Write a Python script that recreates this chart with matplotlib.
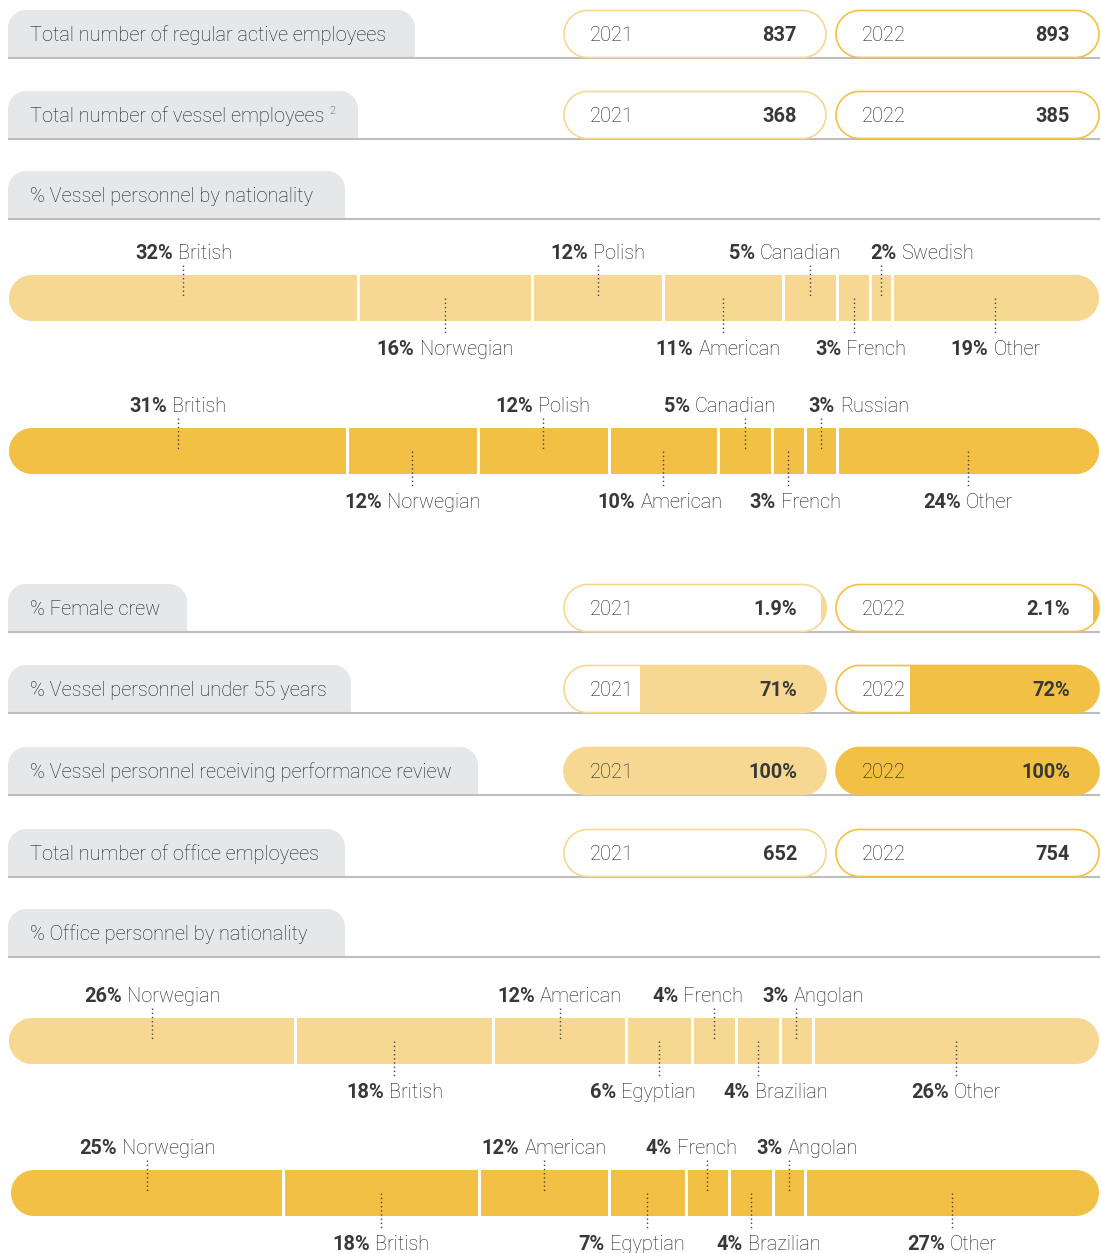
import matplotlib
matplotlib.use("Agg")
import matplotlib.pyplot as plt
from matplotlib.patches import Polygon
import numpy as np

# ---------------- data ----------------
years = ["2021", "2022"]
regular_active = [837, 893]
vessel_employees = [368, 385]
female_crew_pct = [1.9, 2.1]
under55_pct = [71, 72]
perf_review_pct = [100, 100]
office_employees = [652, 754]

vessel_nat_2021_names = ["British", "Norwegian", "Polish", "American", "Canadian", "French", "Swedish", "Other"]
vessel_nat_2021_pct = [32, 16, 12, 11, 5, 3, 2, 19]
vessel_nat_2022_names = ["British", "Norwegian", "Polish", "American", "Canadian", "French", "Russian", "Other"]
vessel_nat_2022_pct = [31, 12, 12, 10, 5, 3, 3, 24]
office_nat_names = ["Norwegian", "British", "American", "Egyptian", "French", "Brazilian", "Angolan", "Other"]
office_nat_2021_pct = [26, 18, 12, 6, 4, 4, 3, 26]
office_nat_2022_pct = [25, 18, 12, 7, 4, 4, 3, 27]

# ---------------- style ----------------
FONT = "Roboto"
WT = "light"
LIGHT = "#F7D893"
DARK = "#F2C044"
TXT = "#1E1E1E"
TXTB = "#383838"
TAB = "#E6E7E8"
RULE = "#BDBDBD"
FS = 14.4

W, H = 1101, 1253
fig = plt.figure(figsize=(W / 100, H / 100), dpi=100)
ax = fig.add_axes([0, 0, 1, 1])
ax.set_xlim(0, W)
ax.set_ylim(H, 0)
ax.axis("off")
renderer = fig.canvas.get_renderer()

X0, X1 = 9, 1099


def pill(x, y, w, h, **kw):
    r = h / 2.0
    a1 = np.linspace(-np.pi / 2, np.pi / 2, 60)
    a2 = np.linspace(np.pi / 2, 3 * np.pi / 2, 60)
    pr = np.c_[x + w - r + r * np.cos(a1), y + r + r * np.sin(a1)]
    pl = np.c_[x + r + r * np.cos(a2), y + r + r * np.sin(a2)]
    return Polygon(np.vstack([pr, pl]), closed=True, **kw)


def tab_shape(x, y, w, h, r, **kw):
    a1 = np.linspace(np.pi, 1.5 * np.pi, 30)
    a2 = np.linspace(1.5 * np.pi, 2 * np.pi, 30)
    pts = [(x, y + h)]
    pts += list(zip(x + r + r * np.cos(a1), y + r + r * np.sin(a1)))
    pts += list(zip(x + w - r + r * np.cos(a2), y + r + r * np.sin(a2)))
    pts += [(x + w, y + h)]
    return Polygon(pts, closed=True, **kw)


def tab_row(text, bottom, right, sup=None):
    h = 48
    top = bottom - h
    ax.add_patch(tab_shape(8, top, right - 8, h, 18, fc=TAB, ec="none", zorder=1))
    ax.plot([X0 - 1, X1 + 1], [bottom, bottom], color=RULE, lw=1.5, zorder=2,
            solid_capstyle="butt")
    t = ax.text(30, bottom - 24 + 7, text, fontsize=FS, family=FONT, weight=WT,
                color=TXT, va="baseline", ha="left", zorder=3)
    if sup:
        bb = t.get_window_extent(renderer)
        ax.text(30 + bb.width + 5, bottom - 24 - 1, sup, fontsize=8, weight=WT,
                family=FONT, color=TXT, va="baseline", ha="left", zorder=3)


def value_pills(bottom, values, fmt, fill_pct=None):
    boxes = [(564, 826), (836, 1099)]
    colors = [LIGHT, DARK]
    h = 47
    top = bottom - h - 0.5
    cy = top + h / 2
    for i, (xa, xb) in enumerate(boxes):
        w = xb - xa
        bg = pill(xa, top, w, h, fc="white", ec="none", zorder=2)
        ax.add_patch(bg)
        if fill_pct is not None:
            fw = w * fill_pct[i] / 100.0
            bars = ax.barh([cy], [fw], left=[xb - fw], height=h + 2,
                           color=colors[i], edgecolor="none", zorder=3)
            for b in bars:
                b.set_clip_path(bg)
        ax.add_patch(pill(xa, top, w, h, fc="none", ec=colors[i], lw=1.2, zorder=4))
        ax.text(xa + 26, cy + 7, years[i], fontsize=FS, family=FONT, weight=WT,
                color=TXT, va="baseline", ha="left", zorder=5)
        ax.text(xb - 29, cy + 7, fmt(values[i]), fontsize=FS, family=FONT,
                weight="bold", color=TXTB, va="baseline", ha="right", zorder=5)


def nat_bar(cy, names, pcts, color, offsets, x_start=X0):
    h = 46
    top = cy - h / 2
    pcts = np.asarray(pcts, dtype=float)
    scale = (X1 - x_start) / pcts.sum()
    widths = pcts * scale
    lefts = x_start + np.concatenate([[0], np.cumsum(widths)[:-1]])
    clip = pill(x_start, top, X1 - x_start, h, fc="none", ec="none")
    ax.add_patch(clip)
    bars = ax.barh([cy] * len(pcts), widths, left=lefts, height=h + 4,
                   color=color, edgecolor="none", zorder=2)
    for b in bars:
        b.set_clip_path(clip)
    for xb in lefts[1:]:
        ax.plot([xb, xb], [top - 2, top + h + 2], color="white", lw=2.2, zorder=3,
                solid_capstyle="butt")
    centers = lefts + widths / 2
    for i, (nm, p) in enumerate(zip(names, pcts)):
        cx = centers[i]
        above = (i % 2 == 0)
        ly = cy - 46 if above else cy + 50
        if above:
            ax.plot([cx, cx], [ly + 13, cy], color="#444444", lw=1,
                    ls=(0, (1, 2)), zorder=4)
        else:
            ax.plot([cx, cx], [cy, ly - 14], color="#444444", lw=1,
                    ls=(0, (1, 2)), zorder=4)
        t1 = ax.text(0, ly + 7, "%d%%" % p, fontsize=FS, family=FONT,
                     weight="bold", color=TXTB, va="baseline", ha="left", zorder=5)
        t2 = ax.text(0, ly + 7, nm, fontsize=FS, family=FONT, weight=WT,
                     color=TXT, va="baseline", ha="left", zorder=5)
        w1 = t1.get_window_extent(renderer).width
        w2 = t2.get_window_extent(renderer).width
        gap = 5
        start = cx + offsets[i] - (w1 + gap + w2) / 2
        t1.set_x(start)
        t2.set_x(start + w1 + gap)


# rows
tab_row("Total number of regular active employees", 58, 415)
value_pills(58, regular_active, lambda v: "%d" % v)

tab_row("Total number of vessel employees", 139, 358, sup="2")
value_pills(139, vessel_employees, lambda v: "%d" % v)

tab_row("% Vessel personnel by nationality", 219, 345)
nat_bar(298, vessel_nat_2021_names, vessel_nat_2021_pct, LIGHT,
        [0, 0, 0, -5, -25, 7, 41, 0])
nat_bar(451, vessel_nat_2022_names, vessel_nat_2022_pct, DARK,
        [0, 0, 0, -3, -25, 7, 38, 0])

tab_row("% Female crew", 632, 187)
value_pills(632, female_crew_pct, lambda v: "%.1f%%" % v, fill_pct=female_crew_pct)

tab_row("% Vessel personnel under 55 years", 713, 351)
value_pills(713, under55_pct, lambda v: "%d%%" % v, fill_pct=under55_pct)

tab_row("% Vessel personnel receiving performance review", 795, 478)
value_pills(795, perf_review_pct, lambda v: "%d%%" % v, fill_pct=perf_review_pct)

tab_row("Total number of office employees", 877, 345)
value_pills(877, office_employees, lambda v: "%d" % v)

tab_row("% Office personnel by nationality", 957, 345)
nat_bar(1041, office_nat_names, office_nat_2021_pct, LIGHT,
        [0, 0, 0, -16, -16, 18, 17, 0])
nat_bar(1193, office_nat_names, office_nat_2022_pct, DARK,
        [0, 0, 0, -16, -16, 18, 18, 0], x_start=11)

fig.savefig("out.png", dpi=100, facecolor="white")
